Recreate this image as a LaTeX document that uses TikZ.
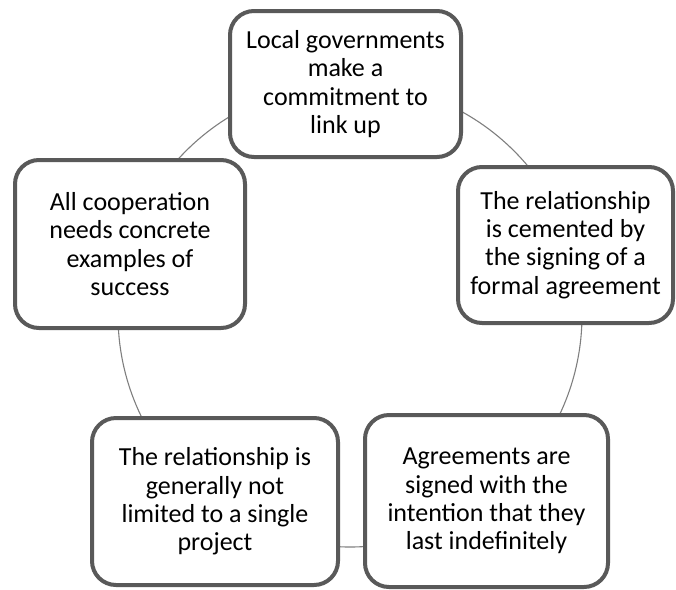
\documentclass[tikz,border=0pt]{standalone}
\usepackage{fontspec}
\setmainfont{Carlito}
\begin{document}
\begin{tikzpicture}[x=1pt,y=-1pt,
  stagebox/.style={draw=boxgray, line width=4pt, fill=white, rounded corners=24pt,
    align=center, font=\fontsize{26}{28.4}\selectfont, inner sep=0pt},
  ring/.style={draw=ringgray, line width=1.1pt}]
\definecolor{boxgray}{HTML}{595959}
\definecolor{ringgray}{HTML}{7F7F7F}
\useasboundingbox (0,0) rectangle (676,589);
\coordinate (c) at (350,315);
\draw[ring] (c) circle[radius=232];
\node[stagebox, minimum width=231pt, minimum height=146pt] (top) at (345.5,84)
  {Local governments\\make a\\commitment to\\link up};
\node[stagebox, minimum width=215pt, minimum height=156pt] (right) at (565.5,245)
  {The relationship\\is cemented by\\the signing of a\\formal agreement};
\node[stagebox, minimum width=243pt, minimum height=172pt] (br) at (486.5,501)
  {Agreements are\\signed with the\\intention that they\\last indefinitely};
\node[stagebox, minimum width=246pt, minimum height=167pt] (bl) at (215,501.5)
  {The relationship is\\generally not\\limited to a single\\project};
\node[stagebox, minimum width=230pt, minimum height=168pt] (left) at (130,244)
  {All cooperation\\needs concrete\\examples of\\success};
\end{tikzpicture}
\end{document}
